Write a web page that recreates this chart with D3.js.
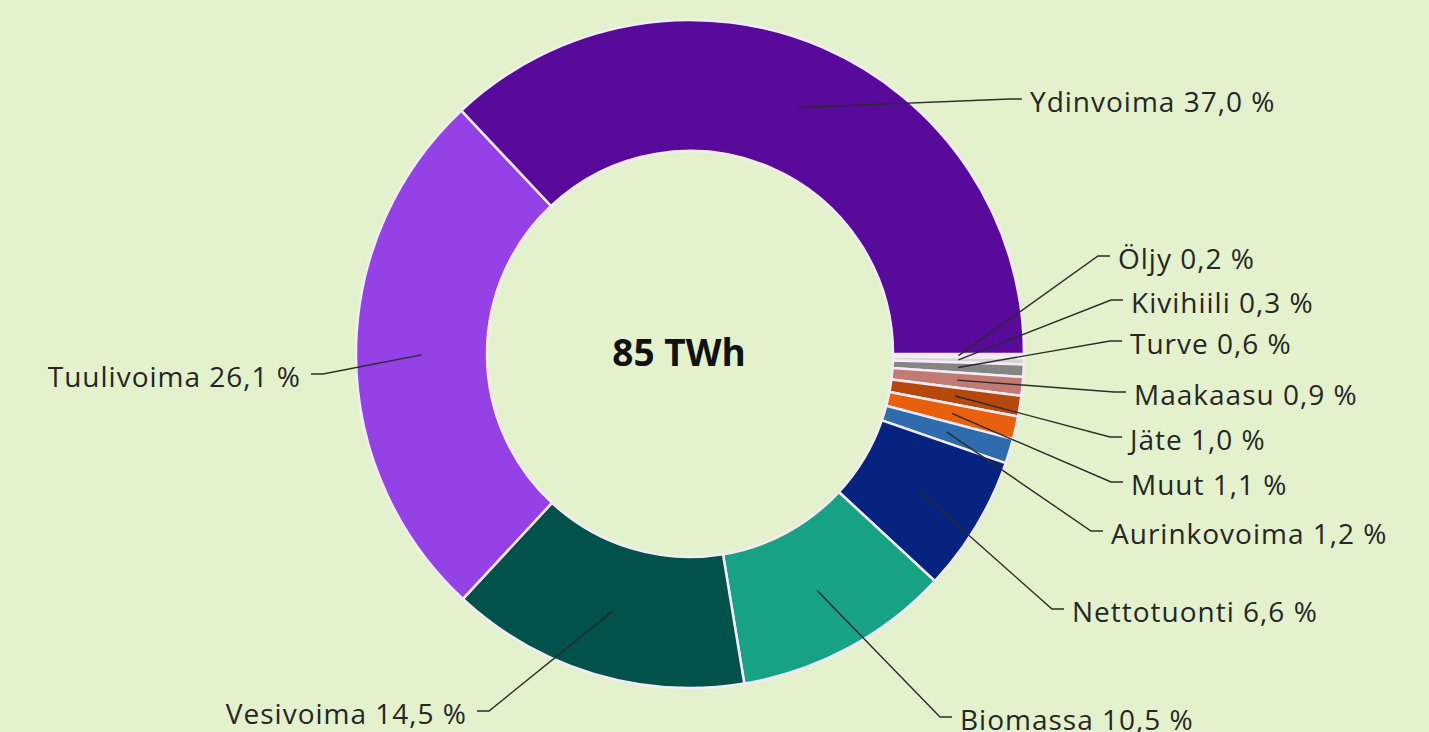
<!DOCTYPE html>
<html>
<head>
<meta charset="utf-8">
<script src="https://cdn.jsdelivr.net/npm/d3@7"></script>
<style>
  html, body { margin: 0; padding: 0; background: #e3f2cc; }
  svg { display: block; }
</style>
</head>
<body>
<div id="chart"></div>
<script>
// data, clockwise from 3 o'clock
const sources = ["Öljy", "Kivihiili", "Turve", "Maakaasu", "Jäte", "Muut", "Aurinkovoima",
                 "Nettotuonti", "Biomassa", "Vesivoima", "Tuulivoima", "Ydinvoima"];
const shares = [0.2, 0.3, 0.6, 0.9, 1.0, 1.1, 1.2, 6.6, 10.5, 14.5, 26.1, 37.0];
const colors = ["#f2eff2", "#d4d4d4", "#858585", "#c27b72", "#b5480d", "#e8600d", "#2e6cae",
                "#06247f", "#17a283", "#01524a", "#9441e6", "#580a9a"];
const total = "85 TWh";

// where each label sits (text anchor point)
const labelPos = {
    "Ydinvoima":    [1030, 101, "start"],
    "Öljy":         [1118, 258, "start"],
    "Kivihiili":    [1131, 302, "start"],
    "Turve":        [1130, 343, "start"],
    "Maakaasu":     [1134, 394, "start"],
    "Jäte":         [1130, 439, "start"],
    "Muut":         [1131, 484, "start"],
    "Aurinkovoima": [1111, 533, "start"],
    "Nettotuonti":  [1072, 611, "start"],
    "Biomassa":     [960, 719, "start"],
    "Vesivoima":    [467, 713, "end"],
    "Tuulivoima":   [301, 376, "end"]
};

const width = 1429, height = 732;
const cx = 690, cy = 354;
const outerR = 334, innerR = 203;

const svg = d3.select("#chart")
    .append("svg")
    .attr("width", width)
    .attr("height", height);

svg.append("rect")
    .attr("width", width)
    .attr("height", height)
    .attr("fill", "#e3f2cc");

const g = svg.append("g")
    .attr("transform", `translate(${cx}, ${cy})`);

const data = sources.map((s, i) => ({ name: s, value: shares[i], color: colors[i] }));

const pie = d3.pie()
    .sort(null)
    .value(d => d.value)
    .startAngle(Math.PI / 2)
    .endAngle(Math.PI / 2 + 2 * Math.PI);

const arc = d3.arc()
    .innerRadius(innerR)
    .outerRadius(outerR);

const midArc = d3.arc()
    .innerRadius((innerR + outerR) / 2)
    .outerRadius((innerR + outerR) / 2);

const arcs = pie(data);

g.selectAll("path.slice")
    .data(arcs)
    .enter()
    .append("path")
    .attr("class", "slice")
    .attr("d", arc)
    .attr("fill", d => d.data.color)
    .attr("stroke", "#f3ecf6")
    .style("stroke-width", "2.5px");

// leader lines
g.selectAll("polyline")
    .data(arcs)
    .enter()
    .append("polyline")
    .attr("points", d => {
        const p = labelPos[d.data.name];
        const c = midArc.centroid(d);
        const tx = p[0] - cx, ty = p[1] - cy - 2;
        let end, elbow;
        if (p[2] === "start") {
            end = [tx - 8, ty];
            elbow = [tx - 20, ty];
        } else {
            end = [tx + 22, ty];
            elbow = [tx + 10, ty];
            return [c, end, elbow].map(q => q.join(",")).join(" ");
        }
        return [c, elbow, end].map(q => q.join(",")).join(" ");
    })
    .attr("fill", "none")
    .attr("stroke", "#2b2b2b")
    .style("stroke-width", "1.4px");

g.selectAll("text.label")
    .data(arcs)
    .enter()
    .append("text")
    .attr("class", "label")
    .attr("x", d => labelPos[d.data.name][0] - cx)
    .attr("y", d => labelPos[d.data.name][1] - cy)
    .attr("text-anchor", d => labelPos[d.data.name][2])
    .attr("dominant-baseline", "central")
    .style("font-family", "'Open Sans', sans-serif")
    .style("font-size", "28px")
    .style("letter-spacing", "1px")
    .style("fill", "#262626")
    .text(d => d.data.name + " " + d3.format(".1f")(d.data.value).replace(".", ",") + " %");

g.append("text")
    .attr("x", -11)
    .attr("y", -3)
    .attr("text-anchor", "middle")
    .attr("dominant-baseline", "central")
    .style("font-family", "'Open Sans', sans-serif")
    .style("font-weight", "bold")
    .style("font-size", "37px")
    .style("fill", "#111")
    .text(total);
</script>
</body>
</html>
